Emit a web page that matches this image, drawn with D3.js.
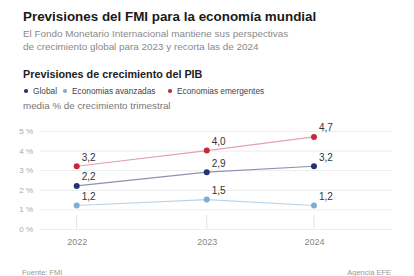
<!DOCTYPE html>
<html>
<head>
<meta charset="utf-8">
<script src="https://cdn.jsdelivr.net/npm/d3@7"></script>
<style>
  body { margin: 0; background: #fff; font-family: "Liberation Sans", Arial, sans-serif; }
  svg text { font-family: "Liberation Sans", Arial, sans-serif; }
</style>
</head>
<body>
<svg id="chart"></svg>
<script>
// datos
var years = ["2022", "2023", "2024"];
var yearDates = ["2021-12-31", "2022-12-31", "2023-10-28"];
var globalVals = [2.2, 2.9, 3.2];
var avanzadasVals = [1.2, 1.5, 1.2];
var emergentesVals = [3.2, 4.0, 4.7];
var yTicks = [0, 1, 2, 3, 4, 5];

var seriesNames = ["Global", "Economias avanzadas", "Economias emergentes"];
var seriesColors = ["#27336e", "#7aaed6", "#c8283a"];
var lineColors = ["#8c92b0", "#b6d3ea", "#e4a2aa"];

width = 414;
height = 276;

var svg = d3.select("#chart").attr("width", width).attr("height", height);

var parse = d3.timeParse("%Y-%m-%d");

var x = d3.scaleTime()
  .domain([parse("2021-09-19"), parse("2024-06-03")])
  .range([40, 392]);
var y = d3.scaleLinear().domain([0, 5]).range([229, 131]);

// titulos
svg.append("text").attr("x", 23).attr("y", 21)
  .style("font-size", "13.4px").style("font-weight", "bold").attr("fill", "#1a1a1a")
  .text("Previsiones del FMI para la economía mundial");
svg.append("text").attr("x", 23).attr("y", 37)
  .style("font-size", "9.9px").attr("fill", "#8a8a8a")
  .text("El Fondo Monetario Internacional mantiene sus perspectivas");
svg.append("text").attr("x", 23).attr("y", 50)
  .style("font-size", "9.9px").attr("fill", "#8a8a8a")
  .text("de crecimiento global para 2023 y recorta las de 2024");

svg.append("text").attr("x", 23).attr("y", 78)
  .style("font-size", "10.8px").style("font-weight", "bold").attr("fill", "#222")
  .text("Previsiones de crecimiento del PIB");

// leyenda
var legendX = [26, 65, 170];
var legend = svg.append("g").selectAll("g")
  .data(seriesNames)
  .join("g")
  .attr("transform", (d, i) => "translate(" + legendX[i] + ",91)");
legend.append("circle").attr("r", 2.1).attr("cx", 0).attr("cy", 0)
  .attr("fill", (d, i) => seriesColors[i]);
legend.append("text").attr("x", 7).attr("y", 3)
  .style("font-size", "8.3px").attr("fill", "#444")
  .text(d => d);

svg.append("text").attr("x", 23).attr("y", 109)
  .style("font-size", "9.8px").attr("fill", "#777")
  .text("media % de crecimiento trimestral");

// ejes
var yAxis = svg.append("g")
  .attr("transform", "translate(40,0)")
  .call(d3.axisLeft(y).tickValues(yTicks).tickSize(-352).tickFormat(d => d + " %"));
yAxis.select(".domain").remove();
yAxis.selectAll("line").attr("stroke", "#ececec");
yAxis.selectAll("text").attr("x", -7).attr("dy", "0.32em")
  .style("font-size", "8px").attr("fill", "#aaa").attr("text-anchor", "end");

var dates = yearDates.map(parse);

svg.append("g").selectAll("line")
  .data(dates)
  .join("line")
  .attr("x1", d => x(d)).attr("x2", d => x(d))
  .attr("y1", y(0)).attr("y2", y(0) - 14)
  .attr("stroke", "#f3dede").attr("stroke-width", 1);

var xAxis = svg.append("g")
  .attr("transform", "translate(0," + y(0) + ")")
  .call(d3.axisBottom(x).tickValues(dates).tickSize(0).tickFormat((d, i) => years[i]));
xAxis.select(".domain").remove();
xAxis.selectAll("text").attr("dy", "1.45em")
  .style("font-size", "9px").attr("fill", "#888");

// series
var seriesData = [globalVals, avanzadasVals, emergentesVals].map(function(vals, i){
  return { name: seriesNames[i], color: seriesColors[i], line: lineColors[i],
           values: vals.map((v, j) => ({ date: dates[j], value: v })) };
});

var line = d3.line().x(d => x(d.date)).y(d => y(d.value));

var groups = svg.append("g").selectAll("g")
  .data(seriesData)
  .join("g");

groups.append("path")
  .attr("d", d => line(d.values))
  .attr("fill", "none")
  .attr("stroke", d => d.line)
  .attr("stroke-width", 1.1);

groups.selectAll("circle")
  .data(d => d.values.map(v => ({ date: v.date, value: v.value, color: d.color })))
  .join("circle")
  .attr("cx", d => x(d.date)).attr("cy", d => y(d.value))
  .attr("r", 3)
  .attr("fill", d => d.color);

var fmt = d3.format(".1f");
groups.selectAll("text")
  .data(d => d.values)
  .join("text")
  .attr("x", d => x(d.date) + 5)
  .attr("y", d => y(d.value) - 5.5)
  .style("font-size", "10px").attr("fill", "#333")
  .text(d => fmt(d.value).replace(".", ","));

// pie
svg.append("text").attr("x", 22).attr("y", 274.5)
  .style("font-size", "7.5px").attr("fill", "#999")
  .text("Fuente: FMI");
svg.append("text").attr("x", 391).attr("y", 274.5)
  .style("font-size", "7.5px").attr("fill", "#999").attr("text-anchor", "end")
  .text("Agencia EFE");
</script>
</body>
</html>
